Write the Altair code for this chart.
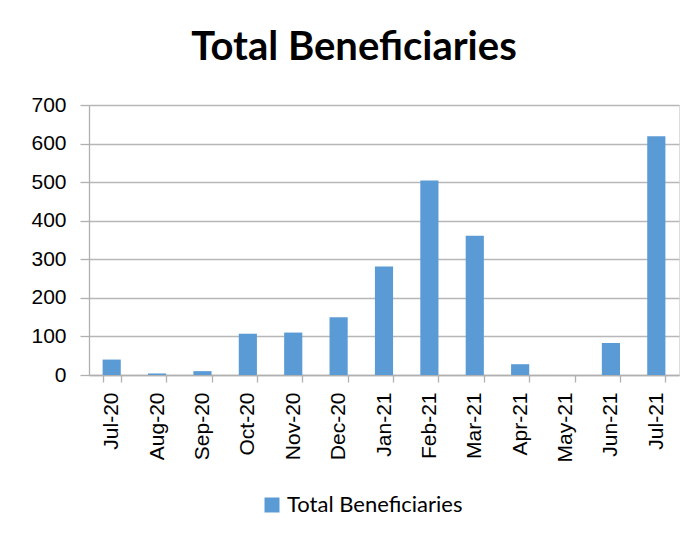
import altair as alt
import pandas as pd

months = ["Jul-20", "Aug-20", "Sep-20", "Oct-20", "Nov-20", "Dec-20", "Jan-21",
          "Feb-21", "Mar-21", "Apr-21", "May-21", "Jun-21", "Jul-21"]
beneficiaries = [40, 4, 10, 107, 110, 150, 281, 504, 361, 28, 0, 83, 619]
series_name = "Total Beneficiaries"

df = pd.DataFrame({"month": months, "value": beneficiaries, "series": [series_name] * len(months)})

bars = alt.Chart(df).mark_bar(color="#5b9bd5").encode(
    x=alt.X("month:N", sort=months, title=None,
            scale=alt.Scale(paddingInner=0.6, paddingOuter=0.3),
            axis=alt.Axis(labelAngle=270, labelFont="Liberation Sans", labelFontSize=21,
                          labelColor="#000000", tickBand="extent", tickSize=7,
                          tickColor="#b0b0b0", domainColor="#b0b0b0", tickWidth=1.3,
                          domainWidth=1.3, labelPadding=10, grid=False)),
    y=alt.Y("value:Q", title=None,
            scale=alt.Scale(domain=[0, 700], nice=False),
            axis=alt.Axis(values=[0, 100, 200, 300, 400, 500, 600, 700],
                          labelFont="Liberation Sans", labelFontSize=21, labelColor="#000000",
                          tickSize=9, labelPadding=14, tickColor="#b0b0b0", domainColor="#b0b0b0",
                          gridColor="#b7b7b7", gridWidth=1.3, tickWidth=1.3, domainWidth=1.3)),
    color=alt.Color("series:N", title=None,
                    scale=alt.Scale(domain=[series_name], range=["#5b9bd5"]),
                    legend=alt.Legend(orient="none", legendX=172, legendY=389,
                                      symbolType="square", symbolSize=225,
                                      symbolStrokeWidth=0, labelFont="Lato",
                                      labelFontSize=22, labelColor="#000000",
                                      labelLimit=400, direction="horizontal")),
)

chart = bars.properties(
    width=590,
    height=270,
    title=alt.TitleParams(series_name, font="Lato", fontSize=40, fontWeight="bold",
                          color="#000000", anchor="middle", dx=-30, offset=-6,
                          baseline="alphabetic"),
    autosize=alt.AutoSizeParams(type="none"),
    padding={"left": 81, "top": 97, "right": 5, "bottom": 150},
).configure_view(stroke=None).configure(background="white")

chart.save("out.html", embed_options={"renderer": "svg", "actions": False})
